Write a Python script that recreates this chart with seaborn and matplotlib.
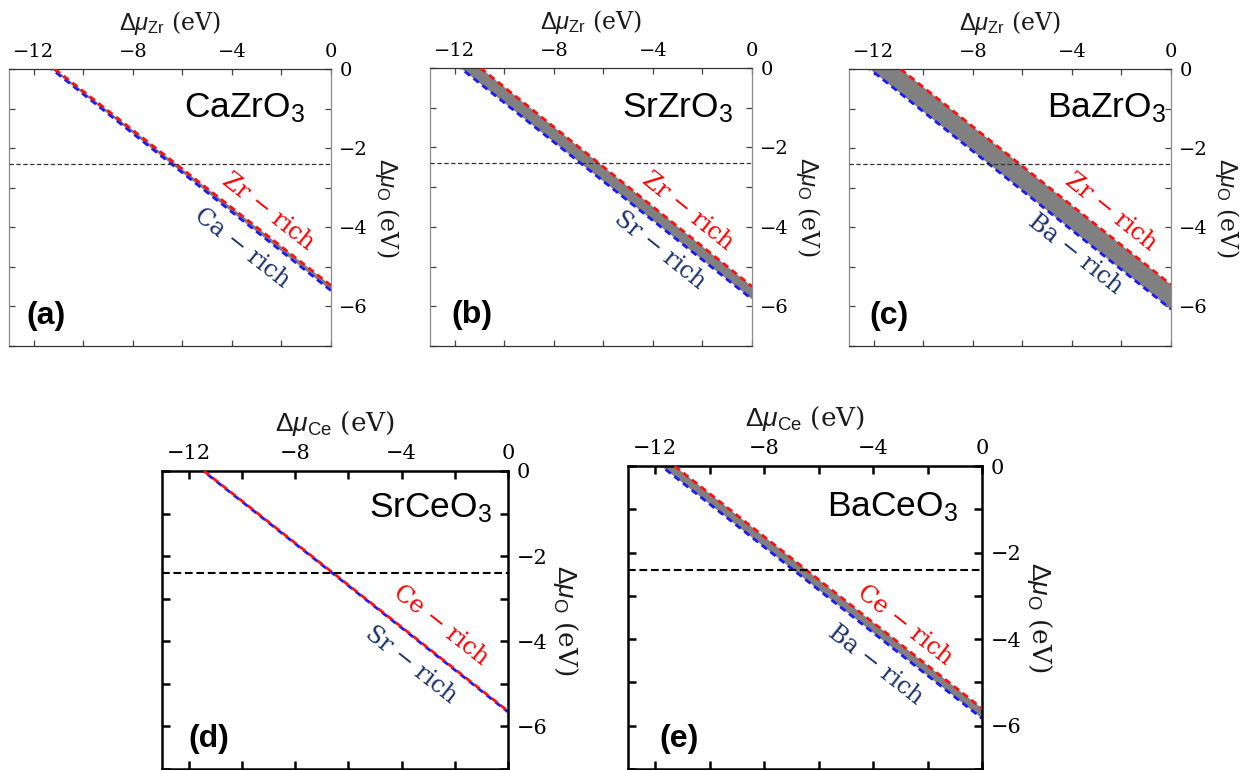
import numpy as np
import matplotlib
matplotlib.use("Agg")
import matplotlib.pyplot as plt
from matplotlib.ticker import MultipleLocator
import seaborn as sns

sns.set_theme(style="white")
plt.rcParams["font.family"] = ["DejaVu Serif"]
plt.rcParams["mathtext.fontset"] = "custom"
plt.rcParams["mathtext.rm"] = "Liberation Sans"
plt.rcParams["mathtext.it"] = "Liberation Sans:italic"
plt.rcParams["mathtext.bf"] = "Liberation Sans:bold"
plt.rcParams["axes.labelcolor"] = "#1a1a1a"
plt.rcParams["text.color"] = "black"

# ---------------- data ----------------
compounds = ["CaZrO$_3$", "SrZrO$_3$", "BaZrO$_3$", "SrCeO$_3$", "BaCeO$_3$"]
panel_letters = ["(a)", "(b)", "(c)", "(d)", "(e)"]
b_elements = ["Zr", "Zr", "Zr", "Ce", "Ce"]
a_elements = ["Ca", "Sr", "Ba", "Sr", "Ba"]
# B-rich (red) boundary: x-intercept at Δμ_O = 0 and Δμ_O at Δμ_B = 0
red_x_top = [-11.15, -10.96, -10.92, -11.42, -11.29]
red_y_right = [-5.47, -5.50, -5.45, -5.64, -5.60]
# A-rich (blue) boundary
blue_x_top = [-11.28, -11.77, -12.16, -11.45, -11.78]
blue_y_right = [-5.60, -5.82, -6.07, -5.66, -5.83]
o_ref = [-2.4, -2.4, -2.4, -2.4, -2.4]
x_ticks = [-12, -8, -4, 0]
y_ticks = [0, -2, -4, -6]

# ---------------- layout ----------------
W, H = 1251, 770
boxes = [(9, 331, 69, 346), (430, 752, 68, 346), (849, 1171, 69, 346),
         (162, 508, 471, 769), (628, 982, 466, 769)]
formula_pos = [(0.919, 0.827), (0.941, 0.823), (0.984, 0.827), (0.954, 0.846), (0.932, 0.833)]
letter_pos = [(0.053, 0.08), (0.067, 0.083), (0.063, 0.08), (0.075, 0.075), (0.088, 0.074)]
red_lab = [(-2.54, -3.61), (-2.58, -3.62), (-2.42, -3.61), (-2.52, -3.62), (-2.82, -3.67)]
blue_lab = [(-3.59, -4.52), (-3.71, -4.59), (-3.88, -4.69), (-3.65, -4.55), (-3.92, -4.60)]

fig = plt.figure(figsize=(W / 100, H / 100), dpi=100)
fig.patch.set_facecolor("white")

for i in range(5):
    l, r, t, b = boxes[i]
    ax = fig.add_axes([l / W, (H - b) / H, (r - l) / W, (b - t) / H])
    top_row = i < 3
    tick_fs = 14 if top_row else 15
    lab_fs = 17 if top_row else 19
    spine_lw = 0.9 if top_row else 1.8
    tick_col = "#444444" if top_row else "black"

    ax.set_xlim(-13, 0)
    ax.set_ylim(-7, 0)

    # stability region
    ax.fill([blue_x_top[i], red_x_top[i], 0, 0],
            [0, 0, red_y_right[i], blue_y_right[i]],
            color="#808080", lw=0, zorder=1)
    sns.lineplot(x=[red_x_top[i], 0], y=[0, red_y_right[i]], ax=ax, color="#ff1010",
                 lw=2.0, linestyle=(0, (2.4, 1.6)), zorder=3, sort=False)
    sns.lineplot(x=[blue_x_top[i], 0], y=[0, blue_y_right[i]], ax=ax, color="#1a1aff",
                 lw=2.0, linestyle=(2.0, (2.4, 1.6)), zorder=2, sort=False)
    if top_row:
        ax.axhline(o_ref[i], color="#333333", lw=0.9, linestyle=(0, (3.5, 2.0)), zorder=4)
    else:
        ax.axhline(o_ref[i], color="black", lw=1.5, linestyle=(0, (3.7, 1.8)), zorder=4)

    # axes styling
    for sp in ax.spines.values():
        sp.set_visible(True)
        sp.set_linewidth(spine_lw)
        sp.set_color("black" if not top_row else "#333333")
    if top_row:
        ax.spines["left"].set_color("#8a8a8a")
        ax.spines["right"].set_color("#8a8a8a")

    ax.xaxis.set_major_locator(MultipleLocator(4))
    ax.xaxis.set_minor_locator(MultipleLocator(2))
    ax.yaxis.set_major_locator(MultipleLocator(2))
    ax.yaxis.set_minor_locator(MultipleLocator(1))
    ax.set_xticks(x_ticks)
    ax.set_yticks(y_ticks)
    tl = 4 if top_row else 6
    ax.tick_params(which="both", direction="in", top=True, bottom=True, left=True, right=True,
                   labeltop=True, labelbottom=False, labelleft=False, labelright=True,
                   length=tl, width=spine_lw, color=tick_col, labelsize=tick_fs,
                   labelcolor="black", pad=6)
    for lab in ax.get_xticklabels() + ax.get_yticklabels():
        lab.set_family("DejaVu Serif")

    ax.xaxis.set_label_position("top")
    ax.set_xlabel(r"$\Delta\mu_{\rm %s}$ (eV)" % b_elements[i], fontsize=lab_fs,
                  family="DejaVu Serif", labelpad=9)
    ax.yaxis.set_label_position("right")
    ax.set_ylabel(r"$\Delta\mu_{\rm O}$ (eV)", fontsize=lab_fs, family="DejaVu Serif",
                  rotation=270, labelpad=24)

    ax.text(formula_pos[i][0], formula_pos[i][1], compounds[i], transform=ax.transAxes,
            ha="right", va="baseline", fontsize=25.5, family="Liberation Sans", color="black")
    ax.text(letter_pos[i][0], letter_pos[i][1], panel_letters[i], transform=ax.transAxes,
            ha="left", va="baseline", fontsize=23, family="Liberation Sans",
            fontweight="bold", color="black")

    # rotation matching the boundary slope on screen
    p0 = ax.transData.transform((red_x_top[i], 0))
    p1 = ax.transData.transform((0, red_y_right[i]))
    ang = np.degrees(np.arctan2(p1[1] - p0[1], p1[0] - p0[0]))
    ax.text(red_lab[i][0], red_lab[i][1], "%s \u2212 rich" % b_elements[i], color="red",
            fontsize=17, family="DejaVu Serif", rotation=ang, rotation_mode="anchor",
            ha="center", va="center")
    ax.text(blue_lab[i][0], blue_lab[i][1], "%s \u2212 rich" % a_elements[i], color="#1c3370",
            fontsize=17, family="DejaVu Serif", rotation=ang, rotation_mode="anchor",
            ha="center", va="center")
    ax.set_facecolor("white")
    ax.grid(False)

fig.savefig("out.png", dpi=100, facecolor="white")
